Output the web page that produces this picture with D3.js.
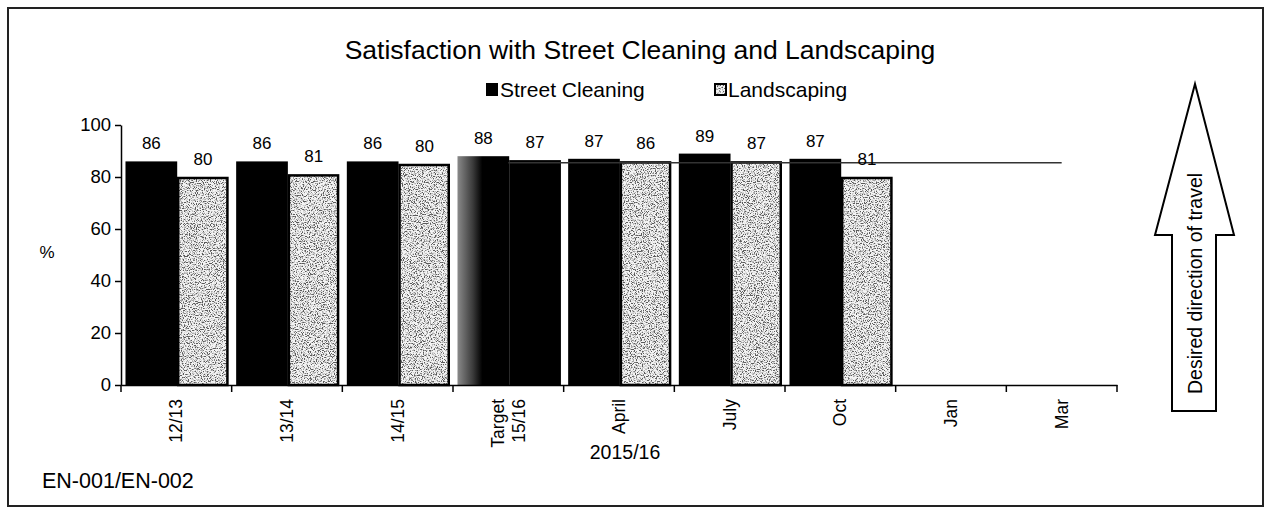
<!DOCTYPE html>
<html>
<head>
<meta charset="utf-8">
<script src="https://cdn.jsdelivr.net/npm/d3@7"></script>
<style>
  html, body { margin: 0; padding: 0; background: #fff; }
  svg { display: block; }
  text { font-family: "Liberation Sans", Arial, sans-serif; fill: #000; }
</style>
</head>
<body>
<svg id="chart" width="1267" height="513"></svg>
<script>
// ---- data ----
const categories = ["12/13", "13/14", "14/15", "Target\n15/16", "April", "July", "Oct", "Jan", "Mar"];
const seriesNames = ["Street Cleaning", "Landscaping"];
const streetCleaning = [86, 86, 86, 88, 87, 89, 87, null, null];
const streetCleaningLabels = [86, 86, 86, 88, 87, 89, 87, null, null];
const landscaping = [80, 81, 85, 86.5, 86, 86, 80, null, null];      // bar heights as drawn
const landscapingLabels = [80, 81, 80, 87, 86, 87, 81, null, null];  // printed data labels
const targetValue = 85.5;
const targetFrom = "Target\n15/16";
const targetTo = "Mar";
const yTicks = [0, 20, 40, 60, 80, 100];
const title = "Satisfaction with Street Cleaning and Landscaping";
const xTitle = "2015/16";
const yTitle = "%";
const footnote = "EN-001/EN-002";
const arrowText = "Desired direction of travel";

// ---- layout ----
const svg = d3.select("#chart");
const plot = { left: 121, right: 1117, top: 125, bottom: 385 };

const x = d3.scaleBand().domain(categories).range([plot.left, plot.right]).paddingInner(0).paddingOuter(0);
const xs = d3.scaleBand().domain(seriesNames).range([0, x.bandwidth()]).paddingInner(0).paddingOuter(0.07).align(0.62);
const y = d3.scaleLinear().domain([0, 100]).range([plot.bottom, plot.top]);

const defs = svg.append("defs");
const f = defs.append("filter").attr("id", "speckle")
  .attr("filterUnits", "objectBoundingBox").attr("x", 0).attr("y", 0).attr("width", 1).attr("height", 1);
f.append("feTurbulence").attr("type", "fractalNoise").attr("baseFrequency", 0.85)
  .attr("numOctaves", 2).attr("seed", 7).attr("result", "noise");
f.append("feColorMatrix").attr("in", "noise").attr("type", "matrix")
  .attr("values", "0 0 0 0 0.1  0 0 0 0 0.1  0 0 0 0 0.1  -5.2 0 0 0 2.8").attr("result", "dots");
f.append("feFlood").attr("flood-color", "#f4f4f4").attr("result", "white");
f.append("feComposite").attr("in", "dots").attr("in2", "white").attr("operator", "over");

const g = defs.append("linearGradient").attr("id", "targetGrad").attr("x1", "0%").attr("x2", "100%");
g.append("stop").attr("offset", "0%").attr("stop-color", "#8a8a8a");
g.append("stop").attr("offset", "30%").attr("stop-color", "#3a3a3a");
g.append("stop").attr("offset", "48%").attr("stop-color", "#000");
g.append("stop").attr("offset", "100%").attr("stop-color", "#000");

// outer frame
svg.append("rect").attr("x", 8).attr("y", 8).attr("width", 1255).attr("height", 498)
  .attr("fill", "none").attr("stroke", "#222").attr("stroke-width", 2);

// title
svg.append("text").attr("x", 640).attr("y", 59).attr("text-anchor", "middle")
  .attr("font-size", 26.5).text(title);

// legend
const lg = svg.append("g");
lg.append("rect").attr("x", 486).attr("y", 83).attr("width", 12).attr("height", 13).attr("fill", "#000");
lg.append("text").attr("x", 500).attr("y", 97).attr("font-size", 21).text(seriesNames[0]);
lg.append("rect").attr("x", 715).attr("y", 84).attr("width", 11).attr("height", 11)
  .attr("fill", "#fff").attr("filter", "url(#speckle)");
lg.append("rect").attr("x", 715).attr("y", 84).attr("width", 11).attr("height", 11)
  .attr("fill", "none").attr("stroke", "#000").attr("stroke-width", 2);
lg.append("text").attr("x", 728).attr("y", 97).attr("font-size", 21).text(seriesNames[1]);

// bars
const rows = categories.map((c, i) => ({ c, i, s: streetCleaning[i], sl: streetCleaningLabels[i], l: landscaping[i], ll: landscapingLabels[i] }));
const isTarget = c => c.startsWith("Target");

const bars = svg.append("g");
rows.filter(d => d.s != null).forEach(d => {
  bars.append("rect")
    .attr("x", x(d.c) + xs(seriesNames[0]))
    .attr("y", y(d.s))
    .attr("width", xs.bandwidth())
    .attr("height", y(0) - y(d.s))
    .attr("fill", isTarget(d.c) ? "url(#targetGrad)" : "#000");
});
rows.filter(d => d.l != null).forEach(d => {
  const bx = x(d.c) + xs(seriesNames[1]);
  const bw = xs.bandwidth();
  if (isTarget(d.c)) {
    bars.append("rect").attr("x", bx).attr("y", y(d.l)).attr("width", bw)
      .attr("height", y(0) - y(d.l)).attr("fill", "#000");
  } else {
    bars.append("rect").attr("x", bx + 1).attr("y", y(d.l) + 1).attr("width", bw - 2)
      .attr("height", y(0) - y(d.l) - 1).attr("fill", "#fff").attr("filter", "url(#speckle)");
    bars.append("rect").attr("x", bx + 1).attr("y", y(d.l) + 1).attr("width", bw - 2.5)
      .attr("height", y(0) - y(d.l) - 1).attr("fill", "none").attr("stroke", "#000").attr("stroke-width", 2.5);
  }
});

// target line
svg.append("line")
  .attr("x1", x(targetFrom) + x.bandwidth() / 2).attr("x2", x(targetTo) + x.bandwidth() / 2)
  .attr("y1", y(targetValue)).attr("y2", y(targetValue))
  .attr("stroke", "#333").attr("stroke-width", 1.6);

// data labels
const labels = svg.append("g").attr("font-size", 17).attr("text-anchor", "middle");
rows.filter(d => d.sl != null).forEach(d => {
  labels.append("text").attr("x", x(d.c) + xs(seriesNames[0]) + xs.bandwidth() / 2)
    .attr("y", y(d.s) - 12).text(d.sl);
});
rows.filter(d => d.ll != null).forEach(d => {
  labels.append("text").attr("x", x(d.c) + xs(seriesNames[1]) + xs.bandwidth() / 2)
    .attr("y", y(d.l) - 12).text(d.ll);
});

// y axis
const yAxis = svg.append("g").attr("transform", `translate(${plot.left},0)`)
  .call(d3.axisLeft(y).tickValues(yTicks).tickSize(6).tickSizeOuter(0).tickPadding(4));
yAxis.selectAll("text").attr("font-size", 18.5).attr("font-family", "Liberation Sans, Arial, sans-serif").attr("fill", "#000");
yAxis.selectAll("line, path").attr("stroke", "#000").attr("stroke-width", 1.5);

// x axis
const xAxis = svg.append("g").attr("transform", `translate(0,${plot.bottom})`)
  .call(d3.axisBottom(x).tickSize(0).tickFormat(""));
xAxis.select("path").attr("stroke", "#000").attr("stroke-width", 1.5);
const bounds = categories.map(c => x(c)).concat([x(categories[categories.length - 1]) + x.bandwidth()]);
svg.append("g").selectAll("line").data(bounds).join("line")
  .attr("x1", d => d).attr("x2", d => d).attr("y1", plot.bottom).attr("y2", plot.bottom + 7)
  .attr("stroke", "#000").attr("stroke-width", 1.5);

// x labels rotated
categories.forEach(c => {
  const lines = c.split("\n");
  const t = svg.append("text")
    .attr("transform", `translate(${x(c) + x.bandwidth() / 2},${plot.bottom + 14}) rotate(-90)`)
    .attr("text-anchor", "end").attr("font-size", 17.5);
  if (lines.length === 1) {
    t.append("tspan").attr("x", 0).attr("dy", "0.35em").text(lines[0]);
  } else {
    t.append("tspan").attr("x", 0).attr("dy", "-0.22em").text(lines[0]);
    t.append("tspan").attr("x", 0).attr("dy", "1.2em").text(lines[1]);
  }
});

// axis titles
svg.append("text").attr("x", 625).attr("y", 459).attr("text-anchor", "middle").attr("font-size", 19.5).text(xTitle);
svg.append("text").attr("x", 47).attr("y", 258).attr("text-anchor", "middle").attr("font-size", 17).text(yTitle);
svg.append("text").attr("x", 42).attr("y", 488).attr("font-size", 21.5).text(footnote);

// direction arrow
const ax = 1195;
const arrowPts = [[ax, 84], [ax + 39, 235], [ax + 21, 235], [ax + 21, 411], [ax - 23, 411], [ax - 23, 235], [ax - 40, 235]];
svg.append("polygon").attr("points", arrowPts.map(p => p.join(",")).join(" "))
  .attr("fill", "#fff").attr("stroke", "#000").attr("stroke-width", 2);
svg.append("text").attr("transform", `translate(${ax},394) rotate(-90)`)
  .attr("dy", "0.35em").attr("font-size", 19.5).text(arrowText);
</script>
</body>
</html>
